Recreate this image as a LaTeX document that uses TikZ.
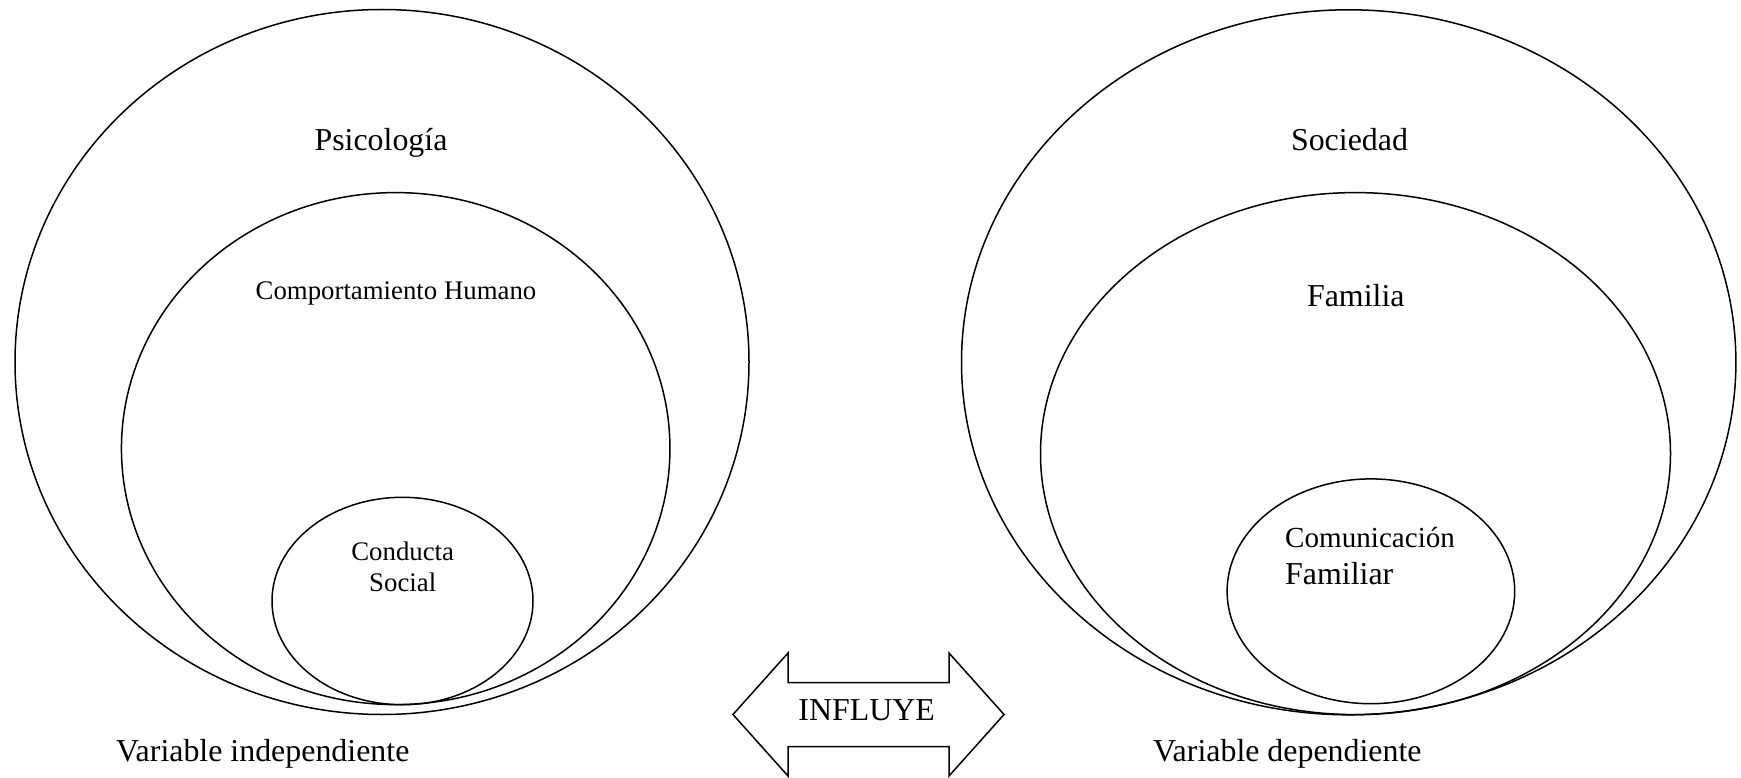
\documentclass[tikz,border=0pt]{standalone}
\usepackage{fontspec}
\setmainfont{Liberation Serif}
\usetikzlibrary{shapes.geometric}
\begin{document}
\begin{tikzpicture}[x=1pt,y=-1pt,
  ell/.style={draw, ellipse, line width=1.5pt, inner sep=0pt},
  lbl/.style={anchor=base, inner sep=0pt, font=\fontsize{31.9}{36}\selectfont},
  small/.style={font=\fontsize{26.8}{30}\selectfont},
  mid/.style={font=\fontsize{29.1}{33}\selectfont},
  bigarrow/.style={draw, line width=1.5pt}]
\useasboundingbox (0,0) rectangle (1741,778);
% left group
\node[ell, minimum width=734pt, minimum height=705pt] (psi) at (382,362) {};
\node[ell, minimum width=548.5pt, minimum height=512pt] (comp) at (395.7,448.6) {};
\node[ell, minimum width=261pt, minimum height=207.4pt] (cond) at (402.5,601) {};
% right group
\node[ell, minimum width=774.4pt, minimum height=705pt] (soc) at (1348.7,362.3) {};
\node[ell, minimum width=630pt, minimum height=522pt] (fam) at (1355.5,453.6) {};
\node[ell, minimum width=287.6pt, minimum height=224.8pt] (com) at (1370.9,591.3) {};
% texts
\node[lbl] (tpsi) at (381,151) {Psicología};
\node[lbl, small] (tcomp) at (396,299) {Comportamiento Humano};
\node[lbl, small] (tcond1) at (402.7,560) {Conducta};
\node[lbl, small] (tcond2) at (402.7,591) {Social};
\node[lbl, anchor=base west] (tvi) at (116,761) {Variable independiente};
\node[lbl] (tsoc) at (1349.5,151) {Sociedad};
\node[lbl] (tfam) at (1355.8,306) {Familia};
\node[lbl, mid, anchor=base west] (tcom1) at (1285,547) {Comunicación};
\node[lbl, anchor=base west] (tcom2) at (1285,584) {Familiar};
\node[lbl, anchor=base west] (tvd) at (1153,761) {Variable dependiente};
% double arrow
\draw[bigarrow] (733,714.5) -- (788,653) -- (788,682.5) -- (949,682.5) -- (949,653)
  -- (1004,714.5) -- (949,776) -- (949,746.5) -- (788,746.5) -- (788,776) -- cycle;
\node[lbl] (tinf) at (866.7,720) {INFLUYE};
\end{tikzpicture}
\end{document}
